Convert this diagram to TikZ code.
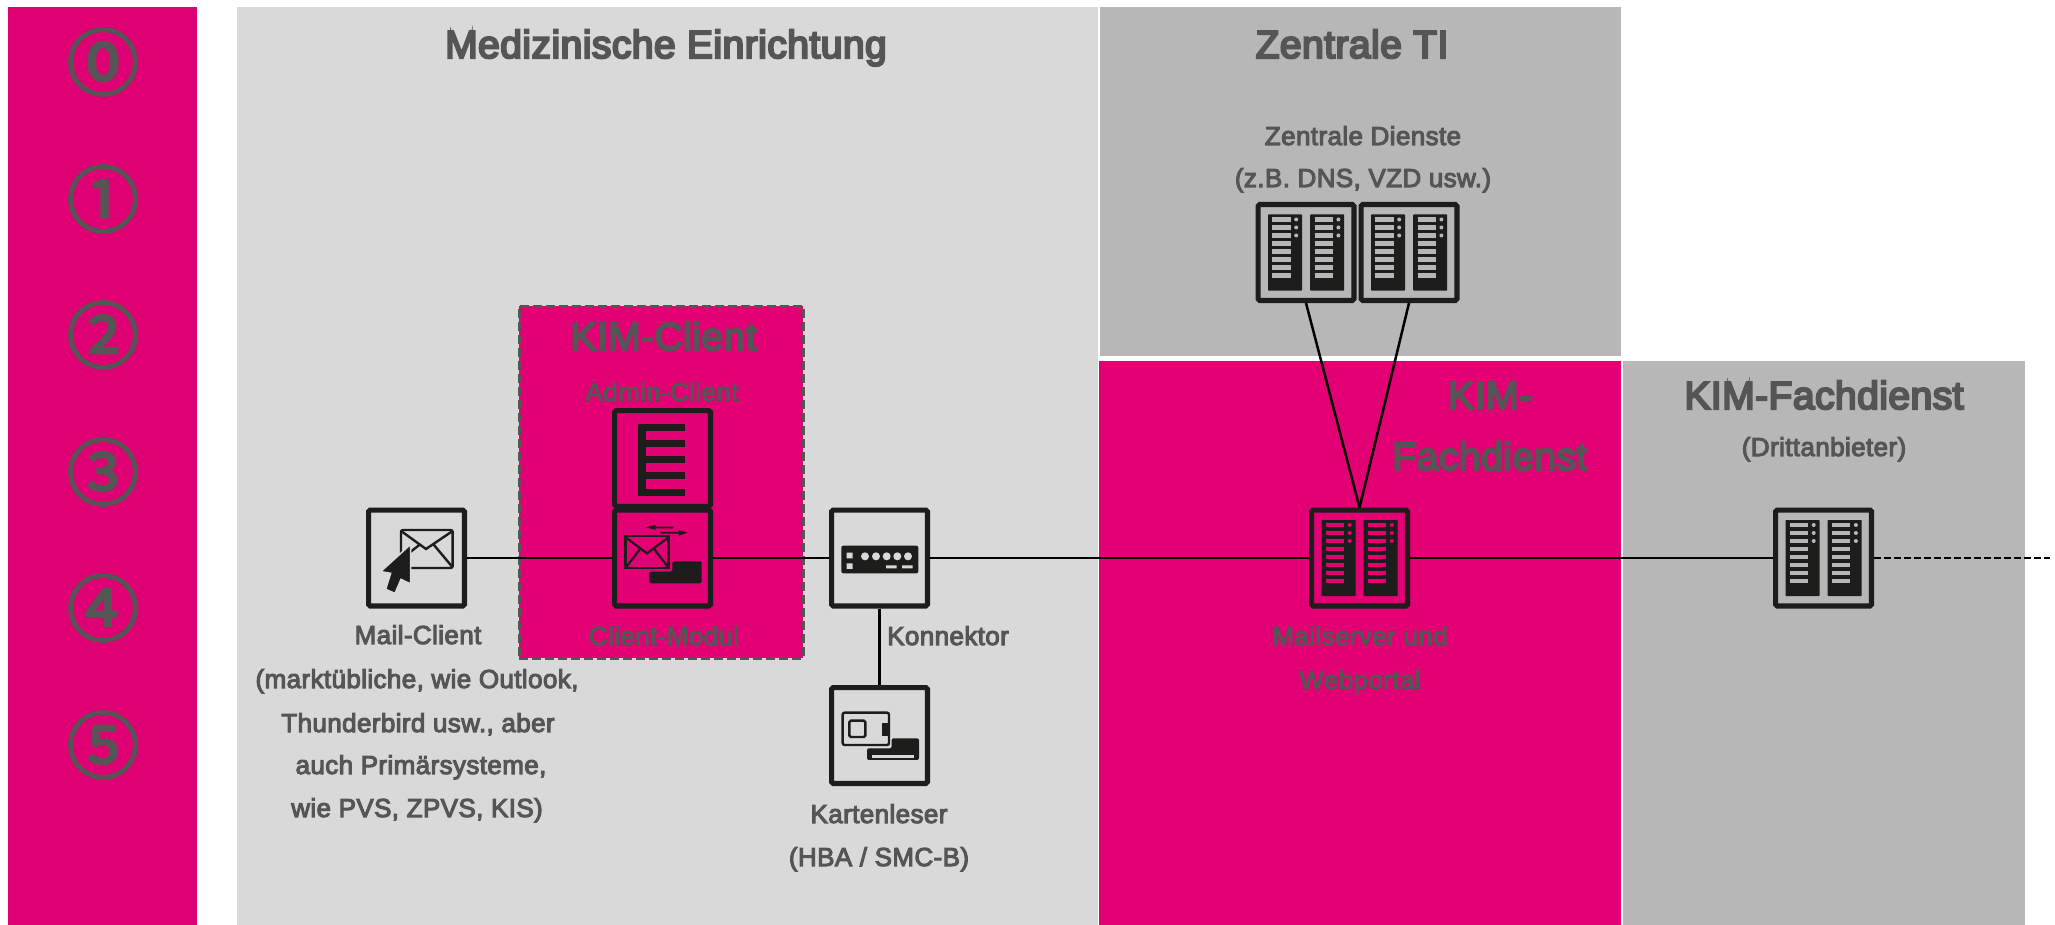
\documentclass[tikz,border=0pt]{standalone}
\usepackage{fontspec}
\setmainfont{Liberation Sans}
\newfontfamily\labfont{Liberation Sans}[FakeBold=4,LetterSpace=1.5]
\newfontfamily\headfont{Liberation Sans}[FakeBold=5.5,LetterSpace=1.2]
\newfontfamily\circfont{Noto Sans CJK SC}[FakeBold=3.5]
\definecolor{tpink}{HTML}{E20074}
\definecolor{barpink}{HTML}{DF0073}
\definecolor{lgrey}{HTML}{D9D9D9}
\definecolor{mgrey}{HTML}{B7B7B7}
\definecolor{tgrey}{HTML}{555555}
\definecolor{ink}{HTML}{1D1D1B}
\tikzset{
  panel/.style={draw=none,inner sep=0pt,outer sep=0pt,anchor=north west},
  iconbox/.style={draw=ink,line width=5.2pt,rounded corners=1.5pt,minimum width=95.8pt,minimum height=95.8pt,inner sep=0pt,outer sep=0.5\pgflinewidth},
  wire/.style={draw=black,line width=2.5pt},
  lab/.style={text=tgrey,font=\labfont\fontsize{26}{26}\selectfont,inner sep=0pt,anchor=base},
  big/.style={text=tgrey,font=\headfont\fontsize{39}{39}\selectfont,inner sep=0pt,anchor=base},
  circ/.style={text=tgrey,font=\circfont\fontsize{72}{72}\selectfont,inner sep=0pt},
}
% server glyph: #1 = centre, #2 = slot colour
\newcommand{\serverglyph}[2]{%
  \begin{scope}[shift={#1}]
    \foreach \xo in {-38,4.2}{%
      \fill[ink,rounded corners=0.6pt] (\xo,-38) rectangle ++(34,76);
      \foreach \yo in {-33,-25,-17,-9,-1,7,15,23}{%
        \fill[#2] (\xo+4.3,\yo-2.2) rectangle ++(18.2,4.4);
      }
      \foreach \yo in {-33,-25,-17}{%
        \fill[#2] (\xo+28.2,\yo) circle (2);
      }
    }
  \end{scope}}
\begin{document}
\begin{tikzpicture}[x=1pt,y=-1pt]
\useasboundingbox (0,0) rectangle (2055,925);
\fill[white] (0,0) rectangle (2055,925);
% panels
\node[panel,fill=barpink,minimum width=189pt,minimum height=918pt] (bar) at (8,7) {};
\node[panel,fill=lgrey,minimum width=861pt,minimum height=918pt] (med) at (237,7) {};
\node[panel,fill=mgrey,minimum width=521pt,minimum height=349pt] (zti) at (1100,7) {};
\node[panel,fill=tpink,minimum width=522pt,minimum height=564pt] (kfd) at (1099,361) {};
\node[panel,fill=mgrey,minimum width=402pt,minimum height=564pt] (dfd) at (1623,361) {};
\node[panel,fill=tpink,draw=tgrey,line width=3pt,dash pattern=on 9pt off 4pt,minimum width=284pt,minimum height=352pt] (kc) at (519,306) {};
% circled numbers
\node[circ] (c0) at (103,62) {⓪};
\node[circ] (c1) at (103,199) {①};
\node[circ] (c2) at (103,335) {②};
\node[circ] (c3) at (103,472) {③};
\node[circ] (c4) at (103,608) {④};
\node[circ] (c5) at (103,745) {⑤};
% icon frames
\node[iconbox] (mail) at (416.5,558) {};
\node[iconbox] (admin) at (662.5,458.5) {};
\node[iconbox] (modul) at (662.5,558) {};
\node[iconbox] (konn) at (879.5,558) {};
\node[iconbox] (kart) at (879.5,735.5) {};
\node[iconbox] (srva) at (1306,252.5) {};
\node[iconbox] (srvb) at (1409,252.5) {};
\node[iconbox] (kim) at (1359.5,558) {};
\node[iconbox] (third) at (1823.5,558) {};
\coordinate (free) at (2050,558);
% connectors
\draw[wire] (mail.east) -- (modul.west);
\draw[wire] (modul.east) -- (konn.west);
\draw[wire] (konn.east) -- (kim.west);
\draw[wire] (kim.east) -- (third.west);
\draw[wire,dash pattern=on 7pt off 3pt] (third.east) -- (free);
\draw[wire] (konn.south) -- (kart.north);
\draw[wire] (srva.south) -- (kim.north);
\draw[wire] (srvb.south) -- (kim.north);
% server glyphs
\serverglyph{(srva)}{mgrey}
\serverglyph{(srvb)}{mgrey}
\serverglyph{(kim)}{tpink}
\serverglyph{(third)}{mgrey}
% mail icon
\begin{scope}[shift={(340,480)},x=0.3333pt,y=-0.3333pt]
  \draw[ink,line width=2.4pt,rounded corners=2pt] (183,150) rectangle (338,264);
  \draw[ink,line width=2.4pt] (186,155) -- (258,207) -- (335,155) (338,262) -- (282,195) (180,240) -- (238,195);
  \fill[ink,draw=lgrey,line width=1.5pt] (212,193) -- (122,275) -- (152,280) -- (137,328) -- (165,340) -- (183,298) -- (212,312) -- cycle;
\end{scope}
% admin and module icons
\begin{scope}[shift={(510,300)},x=0.3333pt,y=-0.3333pt]
  \fill[ink] (385,373) rectangle (407,587);
  \foreach \yo in {373,421,469,517,566}{\fill[ink] (385,\yo) rectangle (524,\yo+21);}
  \draw[ink,line width=2.4pt] (347,708) rectangle (476,804);
  \draw[ink,line width=2.2pt] (347,712) -- (411,760) -- (476,712) (347,804) -- (392,745) (476,804) -- (431,745);
  \fill[ink,rounded corners=2pt] (487,784) -- (575,784) -- (575,850) -- (418,850) -- (418,815) -- (487,815) -- cycle;
  \fill[ink] (490,680) -- (436,680) -- (436,675) -- (408,682) -- (436,690) -- (436,685) -- (490,685) -- cycle;
  \fill[ink] (452,696) -- (506,696) -- (506,690) -- (533,698) -- (506,707) -- (506,701) -- (452,701) -- cycle;
\end{scope}
% Konnektor and card reader icons
\begin{scope}[shift={(800,490)},x=0.3333pt,y=-0.3333pt]
  \fill[ink,rounded corners=2pt] (124,167) rectangle (355,250);
  \fill[lgrey] (140,188) rectangle (158,205) (140,220) rectangle (158,237);
  \foreach \xo in {195,228,260,292,324}{\fill[lgrey] (\xo,199) circle (12);}
  \fill[lgrey] (258,226) rectangle (290,235) (306,226) rectangle (338,235);
  \draw[ink,line width=2.4pt,rounded corners=2pt] (128,765) -- (128,668) -- (267,668) -- (267,765) -- cycle;
  \draw[ink,line width=2.4pt,rounded corners=1.5pt] (148,692) rectangle (196,741);
  \fill[ink] (247,698) rectangle (267,738);
  \fill[ink,rounded corners=2pt] (275,745) -- (357,745) -- (357,810) -- (201,810) -- (201,775) -- (275,775) -- cycle;
  \fill[lgrey] (216,796) rectangle (342,803);
\end{scope}
% titles
\node[big] (tmed) at (666,58) {Medizinische Einrichtung};
\node[big] (tzti) at (1352,58) {Zentrale TI};
\node[lab] (tzd) at (1363,145) {Zentrale Dienste};
\node[lab] (tzd2) at (1363,187) {(z.B. DNS, VZD usw.)};
\node[big] (tkf1) at (1490,409) {KIM-};
\node[big] (tkf2) at (1490,470) {Fachdienst};
\node[big] (tdf) at (1824,409) {KIM-Fachdienst};
\node[lab] (tdf2) at (1824,456) {(Drittanbieter)};
\node[big] (tkc) at (663.5,350) {KIM-Client};
\node[lab] (tac) at (662,401) {Admin-Client};
\node[lab] (tcm) at (664,645) {Client-Modul};
\node[lab] (tm1) at (418,644) {Mail-Client};
\node[lab] (tm2) at (417,688) {(marktübliche, wie Outlook,};
\node[lab] (tm3) at (418,732) {Thunderbird usw., aber};
\node[lab] (tm4) at (421,774) {auch Primärsysteme,};
\node[lab] (tm5) at (417,817) {wie PVS, ZPVS, KIS)};
\node[lab,anchor=base west] (tko) at (887,645) {Konnektor};
\node[lab] (tk1) at (879,823) {Kartenleser};
\node[lab] (tk2) at (879,866) {(HBA / SMC-B)};
\node[lab] (tms1) at (1360,645) {Mailserver und};
\node[lab] (tms2) at (1360,689) {Webportal};
\end{tikzpicture}
\end{document}
